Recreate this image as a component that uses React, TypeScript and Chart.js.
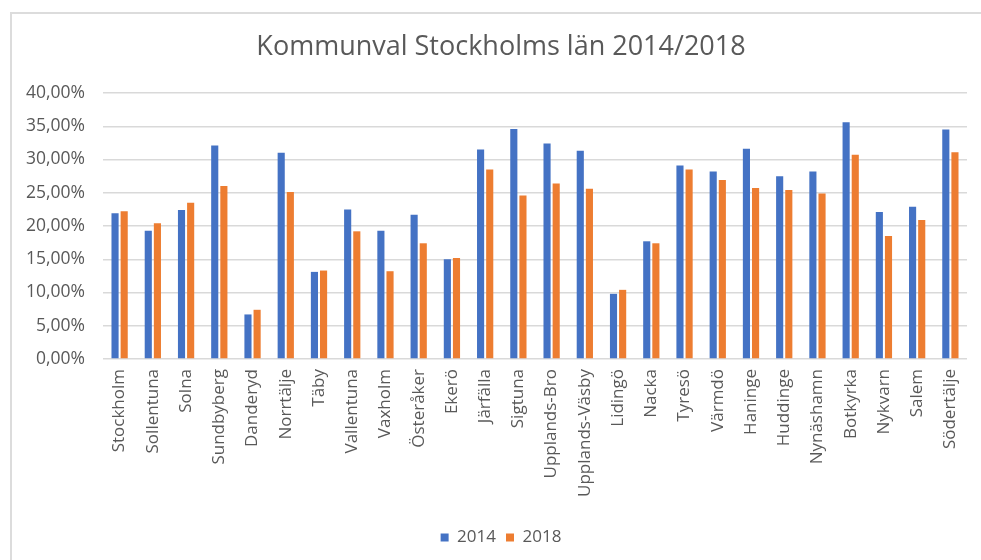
import React, { useEffect, useRef } from "react";
import { Chart, registerables } from "chart.js";

Chart.register(...registerables);

const categories = [
  "Stockholm", "Sollentuna", "Solna", "Sundbyberg", "Danderyd", "Norrtälje", "Täby",
  "Vallentuna", "Vaxholm", "Österåker", "Ekerö", "Järfälla", "Sigtuna", "Upplands-Bro",
  "Upplands-Väsby", "Lidingö", "Nacka", "Tyresö", "Värmdö", "Haninge", "Huddinge",
  "Nynäshamn", "Botkyrka", "Nykvarn", "Salem", "Södertälje",
];

const values2014 = [
  21.9, 19.3, 22.4, 32.1, 6.7, 31.0, 13.1, 22.5, 19.3, 21.7, 15.0, 31.5, 34.6, 32.4,
  31.3, 9.8, 17.7, 29.1, 28.2, 31.6, 27.5, 28.2, 35.6, 22.1, 22.9, 34.5,
];

const values2018 = [
  22.2, 20.4, 23.5, 26.0, 7.4, 25.1, 13.3, 19.2, 13.2, 17.4, 15.2, 28.5, 24.6, 26.4,
  25.6, 10.4, 17.4, 28.5, 26.9, 25.7, 25.4, 24.9, 30.7, 18.5, 20.9, 31.1,
];

const yTicks = [0, 5, 10, 15, 20, 25, 30, 35, 40];

const TEXT = "#595959";
const FONT = "'Open Sans', sans-serif";

export default function App() {
  const ref = useRef<HTMLCanvasElement | null>(null);

  useEffect(() => {
    if (!ref.current) return;
    const chart = new Chart(ref.current, {
      type: "bar",
      data: {
        labels: categories,
        datasets: [
          { label: "2014", data: values2014, backgroundColor: "#4472C4", categoryPercentage: 0.55, barPercentage: 0.78 },
          { label: "2018", data: values2018, backgroundColor: "#ED7D31", categoryPercentage: 0.55, barPercentage: 0.78 },
        ],
      },
      options: {
        responsive: false,
        animation: false,
        layout: { padding: { left: 0, right: 14, top: 0, bottom: 4 } },
        plugins: {
          title: {
            display: true,
            text: "Kommunval Stockholms län 2014/2018",
            color: TEXT,
            font: { family: FONT, size: 27, weight: "normal" },
            padding: { top: 31, bottom: 29.6 },
          },
          legend: {
            position: "bottom",
            labels: {
              color: TEXT,
              font: { family: FONT, size: 17 },
              boxWidth: 8,
              boxHeight: 8,
              padding: 10,
            },
          },
          tooltip: { enabled: false },
        },
        scales: {
          x: {
            grid: { display: false, drawTicks: false },
            border: { display: false },
            ticks: {
              color: TEXT,
              font: { family: FONT, size: 17 },
              minRotation: 90,
              maxRotation: 90,
              autoSkip: false,
              padding: 10,
            },
            afterFit: (s: any) => { s.height = 160; },
          },
          y: {
            min: 0,
            max: 40,
            afterBuildTicks: (s: any) => { s.ticks = yTicks.map((v) => ({ value: v })); },
            grid: { color: "#d9d9d9", lineWidth: 1.5, drawTicks: false },
            border: { display: false },
            ticks: {
              color: TEXT,
              font: { family: FONT, size: 17.5 },
              padding: 18,
              callback: (v: any) => Number(v).toFixed(2).replace(".", ",") + "%",
            },
            afterFit: (s: any) => { s.width = 103; },
          },
          spacer: {
            type: "linear",
            position: "right",
            display: true,
            min: 0,
            max: 40,
            grid: { display: false, drawTicks: false },
            border: { display: false },
            ticks: { display: false },
            afterFit: (s: any) => { s.width = 35; },
          },
        },
      },
    });
    return () => chart.destroy();
  }, []);

  return (
    <div style={{ position: "absolute", left: 0, top: 0, width: 981, height: 560, background: "#fff", overflow: "hidden" }}>
      <div style={{ position: "absolute", left: 10, top: 12, right: 0, bottom: 0, borderLeft: "2px solid #dcdcdc", borderTop: "2px solid #dcdcdc" }} />
      <canvas ref={ref} width={1016} height={560} style={{ position: "absolute", left: 0, top: 0 }} />
    </div>
  );
}
